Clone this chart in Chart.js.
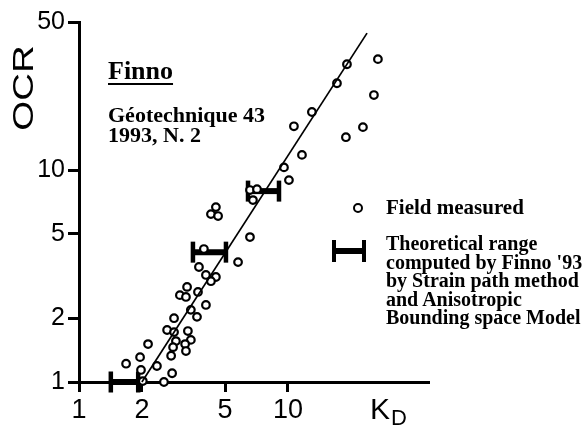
<!DOCTYPE html>
<html>
<head>
<meta charset="utf-8">
<script src="https://cdn.jsdelivr.net/npm/chart.js@4.4.1/dist/chart.umd.min.js"></script>
<style>
  html, body { margin: 0; padding: 0; background: #fff; }
  #wrap { position: relative; width: 584px; height: 425px; overflow: hidden; }
  .serif { position: absolute; font-family: "Liberation Serif", "Times New Roman", serif; font-weight: bold; color: #000; white-space: nowrap; }
  .sans { position: absolute; font-family: "Liberation Sans", Arial, sans-serif; color: #000; white-space: nowrap; line-height: 1; }
</style>
</head>
<body>
<div id="wrap">
  <canvas id="chart" width="584" height="425"></canvas>

  <!-- axis titles -->
  <div class="sans" style="left:23px; top:88px; font-size:30px; transform: translate(-50%,-50%) rotate(-90deg) scaleX(1.28);">OCR</div>
  <div class="sans" style="left:370px; top:394px; font-size:30px;">K</div>
  <div class="sans" style="left:391px; top:407px; font-size:22px;">D</div>

  <!-- source note -->
  <div class="serif" style="left:108px; top:58px; font-size:26px; line-height:26px; text-decoration: underline; text-decoration-thickness: 2px; text-underline-offset: 4px;">Finno</div>
  <div class="serif" style="left:108px; top:105px; font-size:22px; line-height:20px;">Géotechnique 43<br>1993, N. 2</div>

  <!-- legend -->
  <div style="position:absolute; left:353px; top:203px; width:6px; height:6px; border:2px solid #000; border-radius:50%;"></div>
  <div class="serif" style="left:386px; top:197px; font-size:21px; line-height:21px;">Field measured</div>
  <div style="position:absolute; left:332px; top:240px; width:4px; height:22px; background:#000;"></div>
  <div style="position:absolute; left:362px; top:240px; width:4px; height:22px; background:#000;"></div>
  <div style="position:absolute; left:332px; top:248px; width:34px; height:6px; background:#000;"></div>
  <div class="serif" style="left:386px; top:234px; font-size:20px; line-height:18.5px;">Theoretical range<br>computed by Finno '93<br>by Strain path method<br>and Anisotropic<br>Bounding space Model</div>
</div>

<script>
// field measured points (K_D, OCR)
const fieldKD = [26.95, 19.16, 17.16, 25.79, 13.02, 10.68, 22.85, 18.94, 11.67, 9.57,
                 10.11, 6.58, 7.11, 6.80, 4.52, 4.28, 4.63, 6.58, 5.77, 3.96,
                 3.75, 4.05, 4.52, 4.28, 3.29, 3.04, 3.25, 3.71, 3.43, 3.67,
                 4.05, 2.85, 2.64, 2.85, 3.32, 2.91, 3.43, 3.22, 2.82, 3.25,
                 2.76, 2.14, 1.96, 1.68, 1.98, 2.36, 2.79, 2.55, 2.02];
const fieldOCR = [33.4, 31.6, 25.7, 22.6, 18.8, 16.1, 15.95, 14.3, 11.8, 10.3,
                  8.97, 8.05, 8.13, 7.22, 6.69, 6.20, 6.07, 4.83, 3.68, 4.24,
                  3.49, 3.20, 3.13, 2.99, 2.81, 2.57, 2.52, 2.66, 2.19, 2.03,
                  2.31, 2.00, 1.76, 1.72, 1.74, 1.56, 1.58, 1.51, 1.46, 1.40,
                  1.33, 1.51, 1.31, 1.22, 1.14, 1.19, 1.10, 1.00, 1.01];

// theoretical ranges (Finno '93)
const rangeOCR = [1, 4.1, 7.96];
const rangeKDLow = [1.42, 3.51, 6.44];
const rangeKDHigh = [1.92, 5.05, 9.06];

// correlation line
const trendKD = [2.0, 23.9];
const trendOCR = [1, 44.3];

const xTicks = [1, 2, 5, 10];
const yTicks = [1, 2, 5, 10, 50];

const fieldPoints = fieldKD.map(function (k, i) { return { x: k, y: fieldOCR[i] }; });
const trendPoints = trendKD.map(function (k, i) { return { x: k, y: trendOCR[i] }; });

const datasets = [];

datasets.push({
    label: 'trend',
    data: trendPoints,
    showLine: true,
    borderColor: '#000',
    borderWidth: 1.7,
    pointRadius: 0,
    clip: false
});

datasets.push({
    label: 'Field measured',
    data: fieldPoints,
    pointStyle: 'circle',
    pointRadius: 3.8,
    pointBorderWidth: 2.2,
    pointBorderColor: '#000',
    pointBackgroundColor: '#fff',
    clip: false
});

rangeOCR.forEach(function (ocr, i) {
    datasets.push({
        label: 'range' + i,
        data: [{ x: rangeKDLow[i], y: ocr }, { x: rangeKDHigh[i], y: ocr }],
        showLine: true,
        borderColor: '#000',
        borderWidth: 6,
        borderCapStyle: 'butt',
        pointStyle: 'line',
        pointRotation: 90,
        pointRadius: 10.5,
        pointBorderWidth: 4.5,
        pointBorderColor: '#000',
        clip: false
    });
});

const ctx = document.getElementById('chart').getContext('2d');
new Chart(ctx, {
    type: 'scatter',
    data: { datasets: datasets },
    options: {
        responsive: false,
        animation: false,
        events: [],
        layout: { padding: { left: 0, right: 156, top: 22, bottom: 0 } },
        plugins: { legend: { display: false }, tooltip: { enabled: false } },
        scales: {
            x: {
                type: 'logarithmic',
                min: 1,
                max: 46.8,
                afterBuildTicks: function (s) { s.ticks = xTicks.map(function (v) { return { value: v }; }); },
                afterFit: function (s) { s.height = 43; },
                ticks: {
                    autoSkip: false,
                    maxRotation: 0,
                    color: '#000',
                    padding: 2,
                    font: { family: 'Liberation Sans', size: 27 },
                    callback: function (v) { return String(v); }
                },
                grid: { drawOnChartArea: false, drawTicks: true, tickLength: 10, lineWidth: 3, color: '#000' },
                border: { display: true, color: '#000', width: 3 }
            },
            y: {
                type: 'logarithmic',
                min: 1,
                max: 50,
                afterBuildTicks: function (s) { s.ticks = yTicks.map(function (v) { return { value: v }; }); },
                afterFit: function (s) { s.width = 79; },
                ticks: {
                    autoSkip: false,
                    color: '#000',
                    padding: 3,
                    font: { family: 'Liberation Sans', size: 25 },
                    callback: function (v) { return String(v); }
                },
                grid: { drawOnChartArea: false, drawTicks: true, tickLength: 11, lineWidth: 3, color: '#000' },
                border: { display: true, color: '#000', width: 3 }
            }
        }
    }
});
</script>
</body>
</html>
